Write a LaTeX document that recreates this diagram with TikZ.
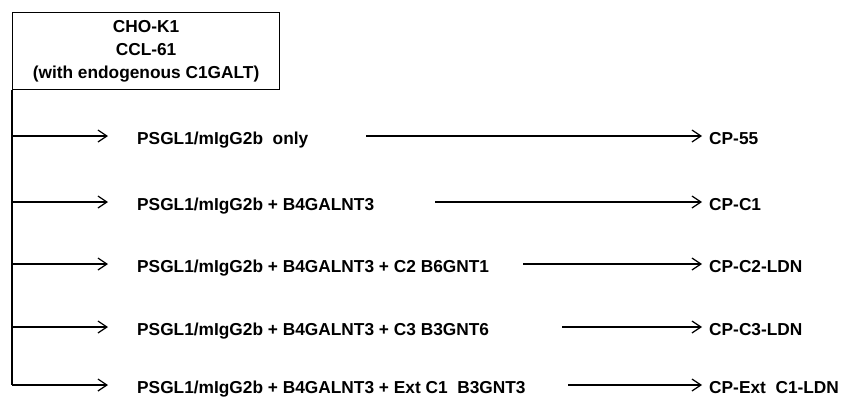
\documentclass[tikz,border=0pt]{standalone}
\usepackage{fontspec}
\setmainfont{Liberation Sans}
\usepackage{tikz}
\usetikzlibrary{arrows.meta, positioning}

\tikzset{
  conn/.style={line width=1.2pt, -{Straight Barb[length=9pt, width=12pt, line width=1.2pt]}},
  lbl/.style={anchor=west, inner sep=0pt, text height=16pt, text depth=0pt}
}

\begin{document}
\begin{tikzpicture}[x=1pt, y=-1pt, font=\bfseries\fontsize{17.3}{23}\selectfont]
        \useasboundingbox (0,0) rectangle (845,396);
        % Zelllinie
        \node[draw, line width=1.1pt, anchor=north west, minimum width=267pt, minimum height=77pt,
              align=center, inner sep=0pt] (cho) at (12,12)
              {CHO-K1\\CCL-61\\(with endogenous C1GALT)};
        % Konstrukte und Produkte
        \foreach \i/\y/\xs/\cons/\prod in {
            1/136/366/{PSGL1/mIgG2b\ \ only}/{CP-55},
            2/202/435/{PSGL1/mIgG2b + B4GALNT3}/{CP-C1},
            3/264/523/{PSGL1/mIgG2b + B4GALNT3 + C2 B6GNT1}/{CP-C2-LDN},
            4/327/562/{PSGL1/mIgG2b + B4GALNT3 + C3 B3GNT6}/{CP-C3-LDN},
            5/385/568/{PSGL1/mIgG2b + B4GALNT3 + Ext C1\ \ B3GNT3}/{CP-Ext\ \ C1-LDN}} {
          \coordinate (br\i) at (12,\y);
          \coordinate (st\i) at (\xs,\y);
          \node[lbl] (con\i) at (137,\y) {\cons};
          \node[lbl] (pro\i) at (709,\y) {\prod};
          \draw[conn] (br\i) -- ([xshift=-29pt]con\i.west);
          \draw[conn] (st\i) -- ([xshift=-7pt]pro\i.west);
        }
        \draw[line width=1.2pt] (cho.south west) -- (br5);
      \end{tikzpicture}
\end{document}
